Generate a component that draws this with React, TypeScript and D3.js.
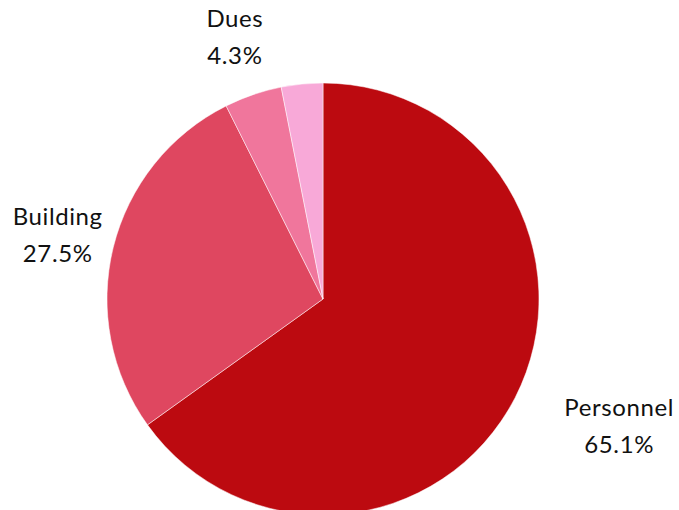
import React from 'react';
import * as d3 from 'd3';

const categories = ['Personnel', 'Building', 'Dues', 'Other'];
const values = [65.1, 27.5, 4.3, 3.1];
const colors = ['#BC0A10', '#DF4760', '#F0769C', '#F8A9D8'];
const showLabel = [true, true, true, false];

const width = 679;
const height = 510;
const cx = 323;
const cy = 299;
const radius = 216;

export default function App() {
  const pie = d3.pie<number>().sort(null).value(d => d);
  const arcs = pie(values);
  const arc = d3.arc<d3.PieArcDatum<number>>().innerRadius(0).outerRadius(radius);

  // label distances from centre (the big slice sits further out)
  const labelR = (i: number) => (i === 0 ? 325 : 272);
  const labelAngleShift = (i: number) => (i === 0 ? -0.05 : i === 1 ? -0.02 : 0);

  return (
    <svg
      width={width}
      height={height}
      style={{ position: 'absolute', left: 0, top: 0, background: '#fff' }}
    >
      <g transform={`translate(${cx},${cy})`}>
        {arcs.map((a, i) => (
          <path key={categories[i]} d={arc(a) || ''} fill={colors[i]} stroke="#fff" strokeWidth={0.5} />
        ))}
        {arcs.map((a, i) => {
          if (!showLabel[i]) return null;
          const mid = (a.startAngle + a.endAngle) / 2 + labelAngleShift(i);
          const r = labelR(i);
          const x = r * Math.sin(mid);
          const y = -r * Math.cos(mid);
          return (
            <text
              key={categories[i] + '-label'}
              x={x}
              y={y}
              textAnchor="middle"
              fontFamily="Lato, 'Noto Sans', sans-serif"
              fontSize={24}
              letterSpacing={0.6}
              fill="#111"
            >
              <tspan x={x} dy={i === 0 ? '-0.7em' : '-0.6em'}>{categories[i]}</tspan>
              <tspan x={x} dy="1.55em">{values[i].toFixed(1)}%</tspan>
            </text>
          );
        })}
      </g>
    </svg>
  );
}
